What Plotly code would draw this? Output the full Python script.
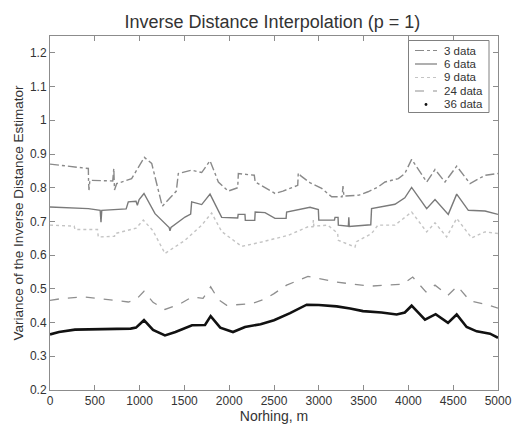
import plotly.graph_objects as go

# Variance of the inverse distance estimator along the northing profile
x_3 = [0, 428, 430, 435, 445, 700, 712, 720, 744, 911, 1053, 1135, 1253, 1410, 1432, 1581, 1693, 1786,
       1879, 1990, 2095, 2102, 2280, 2290, 2400, 2511, 2600, 2765, 2771, 2800, 2900, 3032, 3144, 3260,
       3270, 3280, 3450, 3549, 3661, 3739, 3888, 3960, 4036, 4204, 4297, 4408, 4539, 4688, 4855, 5000]
y_3 = [0.870, 0.857, 0.822, 0.793, 0.822, 0.820, 0.857, 0.793, 0.812, 0.827, 0.890, 0.872, 0.745, 0.790,
       0.842, 0.852, 0.845, 0.880, 0.817, 0.790, 0.800, 0.842, 0.837, 0.817, 0.800, 0.783, 0.790, 0.807,
       0.844, 0.835, 0.815, 0.798, 0.773, 0.773, 0.805, 0.775, 0.778, 0.788, 0.802, 0.817, 0.827, 0.842,
       0.884, 0.817, 0.854, 0.817, 0.864, 0.812, 0.837, 0.842]

x_6 = [0, 428, 560, 569, 578, 837, 850, 874, 960, 975, 995, 1049, 1172, 1330, 1339, 1350, 1507, 1570,
       1581, 1693, 1786, 1916, 2095, 2100, 2176, 2180, 2285, 2290, 2400, 2511, 2635, 2641, 2846, 2902,
       2995, 3000, 3175, 3181, 3215, 3218, 3330, 3335, 3340, 3580, 3589, 3850, 3960, 4036, 4204, 4297,
       4445, 4539, 4669, 4855, 5000]
y_6 = [0.743, 0.738, 0.733, 0.698, 0.733, 0.737, 0.737, 0.758, 0.760, 0.748, 0.765, 0.783, 0.723, 0.682,
       0.672, 0.682, 0.713, 0.722, 0.758, 0.750, 0.781, 0.712, 0.710, 0.721, 0.721, 0.703, 0.703, 0.728,
       0.726, 0.709, 0.709, 0.728, 0.738, 0.742, 0.735, 0.704, 0.704, 0.712, 0.712, 0.689, 0.686, 0.712,
       0.685, 0.690, 0.738, 0.751, 0.770, 0.801, 0.738, 0.765, 0.721, 0.781, 0.733, 0.731, 0.721]

x_9 = [0, 270, 279, 530, 539, 720, 725, 874, 960, 1042, 1150, 1283, 1400, 1507, 1693, 1804, 1916, 2139,
       2362, 2660, 2880, 2935, 2939, 2945, 3100, 3210, 3218, 3290, 3404, 3420, 3589, 3660, 3850, 4036,
       4204, 4297, 4427, 4539, 4706, 4855, 5000]
y_9 = [0.689, 0.686, 0.676, 0.676, 0.654, 0.656, 0.664, 0.674, 0.680, 0.704, 0.672, 0.605, 0.625, 0.644,
       0.689, 0.725, 0.670, 0.626, 0.639, 0.659, 0.684, 0.684, 0.704, 0.686, 0.689, 0.665, 0.644, 0.636,
       0.624, 0.640, 0.664, 0.689, 0.689, 0.728, 0.669, 0.696, 0.654, 0.709, 0.651, 0.669, 0.664]

x_24 = [0, 150, 391, 688, 874, 960, 1049, 1150, 1283, 1450, 1585, 1708, 1793, 1880, 1972, 2251, 2400,
        2500, 2641, 2879, 3000, 3200, 3571, 3940, 4048, 4196, 4297, 4442, 4546, 4688, 4833, 5000]
y_24 = [0.466, 0.472, 0.476, 0.468, 0.461, 0.468, 0.493, 0.460, 0.439, 0.455, 0.476, 0.472, 0.506, 0.468,
        0.451, 0.456, 0.470, 0.486, 0.511, 0.537, 0.530, 0.520, 0.508, 0.514, 0.535, 0.491, 0.511, 0.481,
        0.508, 0.464, 0.456, 0.443]

x_36 = [0, 100, 279, 500, 700, 900, 960, 1049, 1150, 1283, 1400, 1585, 1730, 1793, 1900, 2042, 2176,
        2350, 2500, 2679, 2865, 3000, 3200, 3350, 3493, 3700, 3869, 3960, 4036, 4185, 4304, 4442, 4539,
        4650, 4762, 4911, 5000]
y_36 = [0.365, 0.372, 0.379, 0.380, 0.381, 0.382, 0.385, 0.407, 0.378, 0.362, 0.372, 0.392, 0.393, 0.419,
        0.385, 0.372, 0.387, 0.395, 0.407, 0.428, 0.453, 0.452, 0.448, 0.442, 0.434, 0.430, 0.424, 0.430,
        0.450, 0.409, 0.425, 0.399, 0.424, 0.387, 0.374, 0.367, 0.355]

x_ticks = [0, 500, 1000, 1500, 2000, 2500, 3000, 3500, 4000, 4500, 5000]
y_ticks = [0.2, 0.3, 0.4, 0.5, 0.6, 0.7, 0.8, 0.9, 1.0, 1.1, 1.2]
y_tick_text = ["0.2", "0.3", "0.4", "0.5", "0.6", "0.7", "0.8", "0.9", "1", "1.1", "1.2"]

FONT = "Liberation Sans, Arial, sans-serif"
TEXT = "#333333"
AXIS = "#8c8c8c"

# name, x, y, line style (the 36-point series uses a dot marker key)
series = [
    ("3 data", x_3, y_3, dict(color="#8a8a8a", width=1.4, dash="dashdot")),
    ("6 data", x_6, y_6, dict(color="#7a7a7a", width=1.4)),
    ("9 data", x_9, y_9, dict(color="#c4c4c4", width=1.4, dash="dot")),
    ("24 data", x_24, y_24, dict(color="#8f8f8f", width=1.3, dash="dash")),
    ("36 data", x_36, y_36, dict(color="#111111", width=2.6)),
]

fig = go.Figure()
for name, xs, ys, line in series:
    fig.add_trace(go.Scatter(x=xs, y=ys, mode="lines", name=name, line=line, showlegend=False))

# plot area in pixels, used to place the compact key
PL, PR, PT, PB = 50, 498, 36, 390
def px(x):
    return (x - PL) / (PR - PL)
def py(y):
    return (PB - y) / (PB - PT)

# compact boxed key in the upper right corner of the axes
shapes = []
annotations = []
shapes.append(dict(type="rect", xref="paper", yref="paper", x0=px(408.5), x1=px(489), y0=py(112.5),
                   y1=py(40.5), line=dict(color="#808080", width=1), fillcolor="white", layer="above"))
row_px = [50.5, 64, 77.5, 91, 104.5]
for (name, _, _, line), ry in zip(series, row_px):
    if name == "36 data":
        r = 1.4
        shapes.append(dict(type="circle", xref="paper", yref="paper",
                           x0=px(426 - r), x1=px(426 + r), y0=py(ry + r), y1=py(ry - r),
                           fillcolor=line["color"], line=dict(width=0), layer="above"))
    else:
        shapes.append(dict(type="line", xref="paper", yref="paper", x0=px(415), x1=px(437),
                           y0=py(ry), y1=py(ry),
                           line=dict(color=line["color"], width=1.2, dash=line.get("dash", "solid")),
                           layer="above"))
    annotations.append(dict(text=name, xref="paper", yref="paper", x=px(443), y=py(ry), xanchor="left",
                            yanchor="middle", showarrow=False, borderpad=0,
                            font=dict(family=FONT, size=11.5, color=TEXT)))

axis_common = dict(showline=True, linecolor=AXIS, linewidth=1, mirror="ticks", ticks="inside",
                   ticklen=5, tickcolor=AXIS, showgrid=False, zeroline=False, automargin=False,
                   tickfont=dict(family=FONT, size=12, color=TEXT))

fig.update_layout(
    width=513, height=424,
    margin=dict(l=PL, r=513 - PR, t=PT, b=424 - PB),
    paper_bgcolor="white", plot_bgcolor="white",
    font=dict(family=FONT, color=TEXT),
    showlegend=False,
    shapes=shapes,
    annotations=annotations,
    title=dict(text="Inverse Distance Interpolation (p = 1)", x=0.531, xanchor="center",
               y=0.95, yanchor="middle", font=dict(family=FONT, size=18, color=TEXT)),
    xaxis=dict(range=[0, 5000], tickvals=x_ticks,
               title=dict(text="Norhing, m", standoff=1, font=dict(family=FONT, size=14, color=TEXT)),
               **axis_common),
    yaxis=dict(range=[0.2, 1.25], tickvals=y_ticks, ticktext=y_tick_text,
               title=dict(text="Variance of the Inverse Distance Estimator", standoff=3,
                          font=dict(family=FONT, size=13.5, color=TEXT)),
               **axis_common),
)

fig.write_html("out.html")
